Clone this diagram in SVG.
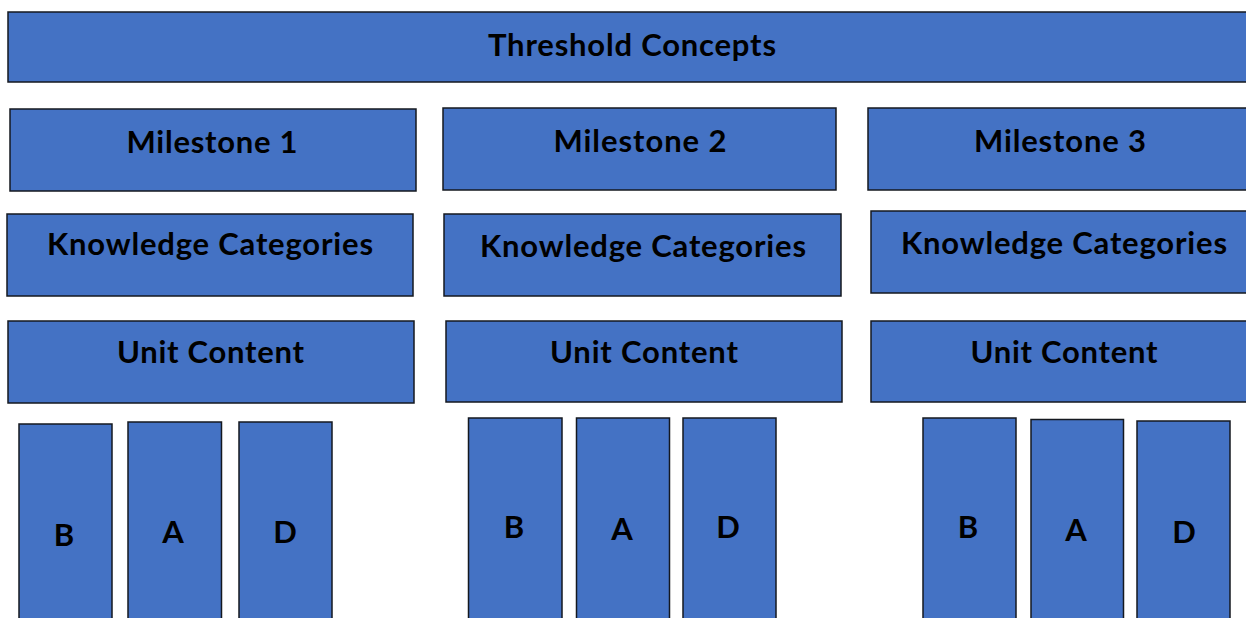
<svg xmlns="http://www.w3.org/2000/svg" width="1246" height="618" viewBox="0 0 1246 618">
  <style>
    .box { fill: #4472C4; stroke: #14181f; stroke-width: 1.5; }
    .lbl { font-family: Lato, "Open Sans", "Liberation Sans", sans-serif; font-weight: bold; font-size: 31px; fill: #000; text-anchor: middle; }
  </style>
  <rect width="1246" height="618" fill="#fff"/>

  <g id="threshold-concepts">
    <rect class="box" x="8" y="12" width="1245" height="70"/>
    <text class="lbl" x="632" y="56" textLength="288">Threshold Concepts</text>
  </g>

  <!-- milestone row -->
  <g id="milestone-1">
    <rect class="box" x="10" y="109" width="406" height="82"/>
    <text class="lbl" x="212" y="153" textLength="171">Milestone 1</text>
  </g>
  <g id="milestone-2">
    <rect class="box" x="443" y="108" width="393" height="82"/>
    <text class="lbl" x="640" y="152" textLength="173">Milestone 2</text>
  </g>
  <g id="milestone-3">
    <rect class="box" x="868" y="108" width="385" height="82"/>
    <text class="lbl" x="1060" y="152" textLength="172">Milestone 3</text>
  </g>

  <!-- knowledge categories row -->
  <g id="knowledge-1">
    <rect class="box" x="7" y="214" width="406" height="82"/>
    <text class="lbl" x="210" y="255" textLength="326">Knowledge Categories</text>
  </g>
  <g id="knowledge-2">
    <rect class="box" x="444" y="214" width="397" height="82"/>
    <text class="lbl" x="643" y="257" textLength="326">Knowledge Categories</text>
  </g>
  <g id="knowledge-3">
    <rect class="box" x="871" y="211" width="382" height="82"/>
    <text class="lbl" x="1064" y="254" textLength="326">Knowledge Categories</text>
  </g>

  <!-- unit content row -->
  <g id="unit-1">
    <rect class="box" x="8" y="321" width="406" height="82"/>
    <text class="lbl" x="210.5" y="363" textLength="187">Unit Content</text>
  </g>
  <g id="unit-2">
    <rect class="box" x="446" y="321" width="396" height="81"/>
    <text class="lbl" x="644" y="363" textLength="188">Unit Content</text>
  </g>
  <g id="unit-3">
    <rect class="box" x="871" y="321" width="382" height="81"/>
    <text class="lbl" x="1064" y="363" textLength="187">Unit Content</text>
  </g>

  <!-- category columns, group 1 -->
  <g id="col-1-b">
    <rect class="box" x="19" y="424" width="93" height="200"/>
    <text class="lbl" x="64" y="546">B</text>
  </g>
  <g id="col-1-a">
    <rect class="box" x="128" y="422" width="93.5" height="200"/>
    <text class="lbl" x="173" y="543">A</text>
  </g>
  <g id="col-1-d">
    <rect class="box" x="239" y="422" width="93" height="200"/>
    <text class="lbl" x="285" y="543">D</text>
  </g>

  <!-- category columns, group 2 -->
  <g id="col-2-b">
    <rect class="box" x="468.5" y="418" width="93.5" height="205"/>
    <text class="lbl" x="514" y="538">B</text>
  </g>
  <g id="col-2-a">
    <rect class="box" x="576.5" y="418" width="93" height="205"/>
    <text class="lbl" x="622" y="540">A</text>
  </g>
  <g id="col-2-d">
    <rect class="box" x="683" y="418" width="93" height="205"/>
    <text class="lbl" x="728" y="538">D</text>
  </g>

  <!-- category columns, group 3 -->
  <g id="col-3-b">
    <rect class="box" x="923" y="418" width="93" height="205"/>
    <text class="lbl" x="968" y="538">B</text>
  </g>
  <g id="col-3-a">
    <rect class="box" x="1031" y="419.5" width="92.5" height="205"/>
    <text class="lbl" x="1076" y="541">A</text>
  </g>
  <g id="col-3-d">
    <rect class="box" x="1137" y="421" width="93" height="205"/>
    <text class="lbl" x="1184" y="543">D</text>
  </g>

  <g id="connectors"/>
</svg>
